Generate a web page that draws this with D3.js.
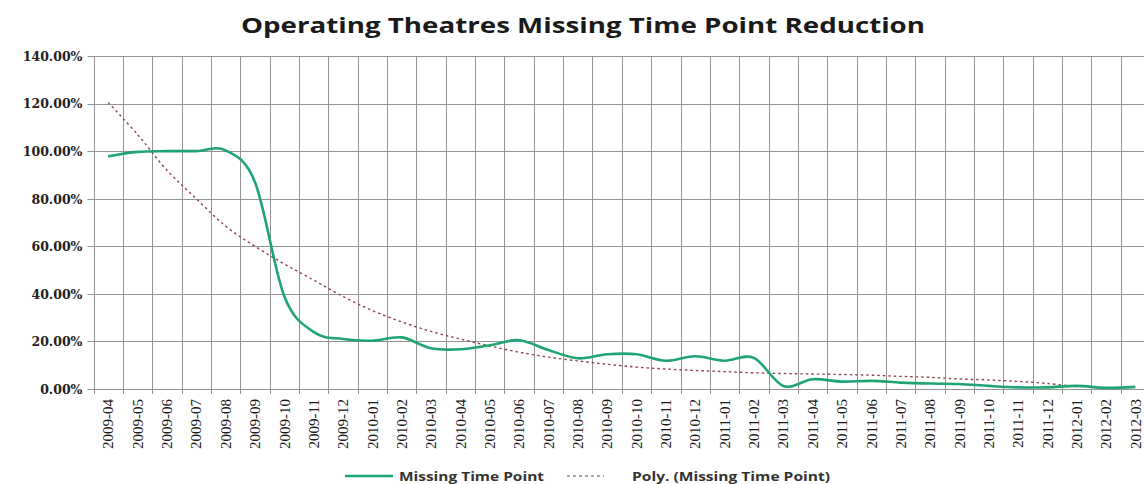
<!DOCTYPE html>
<html>
<head>
<meta charset="utf-8">
<script src="https://cdn.jsdelivr.net/npm/d3@7"></script>
<style>
  body { margin: 0; background: #fff; }
  svg { display: block; }
</style>
</head>
<body>
<div id="chart"></div>
<script>
// ---------------------------------------------------------------------------
// DATA
// ---------------------------------------------------------------------------
const months = [
  "2009-04", "2009-05", "2009-06", "2009-07", "2009-08", "2009-09",
  "2009-10", "2009-11", "2009-12", "2010-01", "2010-02", "2010-03",
  "2010-04", "2010-05", "2010-06", "2010-07", "2010-08", "2010-09",
  "2010-10", "2010-11", "2010-12", "2011-01", "2011-02", "2011-03",
  "2011-04", "2011-05", "2011-06", "2011-07", "2011-08", "2011-09",
  "2011-10", "2011-11", "2011-12", "2012-01", "2012-02", "2012-03"
];

// % of cases with a missing time point
const missing = [
  97.8, 99.7, 100, 100, 100.3, 87,
  39, 24, 21, 20.3, 21.7, 17.1,
  16.7, 18.4, 20.5, 16.4, 12.9, 14.6,
  14.6, 11.9, 13.8, 11.9, 13.1, 1.3,
  4.1, 3.1, 3.4, 2.7, 2.3, 2.1,
  1.3, 0.7, 0.7, 1.3, 0.5, 0.9
];

// polynomial trendline, as drawn
const trend = [
  120.5, 107, 92, 80, 68.5, 60,
  52.6, 45.8, 38.9, 33, 28.2, 24.2,
  21, 18.1, 15.5, 13.4, 11.8, 10.4,
  9.2, 8.4, 7.8, 7.3, 6.8, 6.5,
  6.3, 6.1, 5.8, 5.3, 4.9, 4.2,
  3.8, 3.2, 2.3, 1.0, null, null
];

const yTicks = [0, 20, 40, 60, 80, 100, 120, 140];

const title = "Operating Theatres Missing Time Point Reduction";
const seriesName = "Missing Time Point";
const trendName = "Poly. (Missing Time Point)";

// ---------------------------------------------------------------------------
// SVG setup
// ---------------------------------------------------------------------------
const W = 1144, H = 484;
const plot = { left: 93.5, top: 56, bottom: 389 };
const step = 29.35;

const svg = d3.select("#chart")
  .append("svg")
  .attr("width", W)
  .attr("height", H);

const x = d3.scaleBand()
  .domain(months)
  .range([plot.left, plot.left + step * months.length])
  .paddingInner(0).paddingOuter(0);

const y = d3.scaleLinear()
  .domain([0, 140])
  .range([plot.bottom, plot.top]);

const cx = m => x(m) + x.bandwidth() / 2;

// title
svg.append("text")
  .attr("x", 583)
  .attr("y", 33)
  .attr("text-anchor", "middle")
  .attr("font-family", "'Open Sans', sans-serif")
  .attr("font-weight", "bold")
  .attr("font-size", 21)
  .attr("fill", "#1a1a1a")
  .attr("textLength", 684)
  .attr("lengthAdjust", "spacingAndGlyphs")
  .text(title);

// ---------------------------------------------------------------------------
// Grid
// ---------------------------------------------------------------------------
const grid = svg.append("g").attr("stroke", "#939393").attr("stroke-width", 1);

grid.selectAll(".hgrid")
  .data(yTicks)
  .join("line")
  .attr("class", "hgrid")
  .attr("x1", plot.left - 6)
  .attr("x2", W)
  .attr("y1", d => Math.round(y(d)) + 0.5)
  .attr("y2", d => Math.round(y(d)) + 0.5);

// vertical lines on category boundaries (ticks poke below the axis)
const bounds = months.map(m => x(m)).concat([x.range()[1]]);
grid.selectAll(".vgrid")
  .data(bounds)
  .join("line")
  .attr("class", "vgrid")
  .attr("x1", d => Math.round(d) + 0.5)
  .attr("x2", d => Math.round(d) + 0.5)
  .attr("y1", plot.top)
  .attr("y2", plot.bottom + 5);

// ---------------------------------------------------------------------------
// Axes labels
// ---------------------------------------------------------------------------
const yAxis = svg.append("g")
  .attr("transform", `translate(${plot.left - 7},0)`)
  .call(d3.axisLeft(y).tickValues(yTicks).tickSize(0).tickPadding(4)
    .tickFormat(d => d3.format(".2f")(d) + "%"));
yAxis.select(".domain").remove();
yAxis.selectAll("text")
  .attr("font-family", "'DejaVu Serif', serif")
  .attr("font-weight", "bold")
  .attr("font-size", 12.5)
  .attr("fill", "#222")
  .attr("dy", "0.35em");

const xAxis = svg.append("g")
  .attr("transform", `translate(0,${plot.bottom})`)
  .call(d3.axisBottom(x).tickSize(0).tickPadding(0));
xAxis.select(".domain").remove();
xAxis.selectAll("text")
  .attr("font-family", "'Liberation Serif', 'Times New Roman', serif")
  .attr("font-size", 15)
  .attr("fill", "#1a1a1a")
  .attr("text-anchor", "end")
  .attr("transform", "rotate(-90)")
  .attr("x", -10)
  .attr("y", 0)
  .attr("dy", "0.35em");

// ---------------------------------------------------------------------------
// Lines
// ---------------------------------------------------------------------------
const smooth = d3.curveCardinal.tension(0);

const trendLine = d3.line()
  .defined(d => d[1] != null)
  .curve(smooth)
  .x(d => cx(d[0]))
  .y(d => y(d[1]));

svg.append("path")
  .datum(months.map((m, i) => [m, trend[i]]))
  .attr("fill", "none")
  .attr("stroke", "#8e4650")
  .attr("stroke-width", 1.4)
  .attr("stroke-dasharray", "2.5,3")
  .attr("d", trendLine);

svg.append("path")
  .datum(months.map((m, i) => [m, missing[i]]))
  .attr("fill", "none")
  .attr("stroke", "#1ea572")
  .attr("stroke-width", 2.6)
  .attr("d", d3.line()
    .curve(smooth)
    .x(d => cx(d[0]))
    .y(d => y(d[1])));

// ---------------------------------------------------------------------------
// Legend
// ---------------------------------------------------------------------------
const legend = svg.append("g")
  .attr("font-family", "'Open Sans', sans-serif")
  .attr("font-weight", "bold")
  .attr("font-size", 12)
  .attr("fill", "#333");

legend.append("line")
  .attr("x1", 345).attr("x2", 393)
  .attr("y1", 476).attr("y2", 476)
  .attr("stroke", "#1ea572").attr("stroke-width", 2.6);
legend.append("text")
  .attr("x", 399).attr("y", 480.5)
  .attr("textLength", 145).attr("lengthAdjust", "spacingAndGlyphs")
  .text(seriesName);

legend.append("line")
  .attr("x1", 567).attr("x2", 604)
  .attr("y1", 476).attr("y2", 476)
  .attr("stroke", "#555").attr("stroke-width", 1.2)
  .attr("stroke-dasharray", "3,3");
legend.append("text")
  .attr("x", 632).attr("y", 480.5)
  .attr("textLength", 198).attr("lengthAdjust", "spacingAndGlyphs")
  .text(trendName);
</script>
</body>
</html>
